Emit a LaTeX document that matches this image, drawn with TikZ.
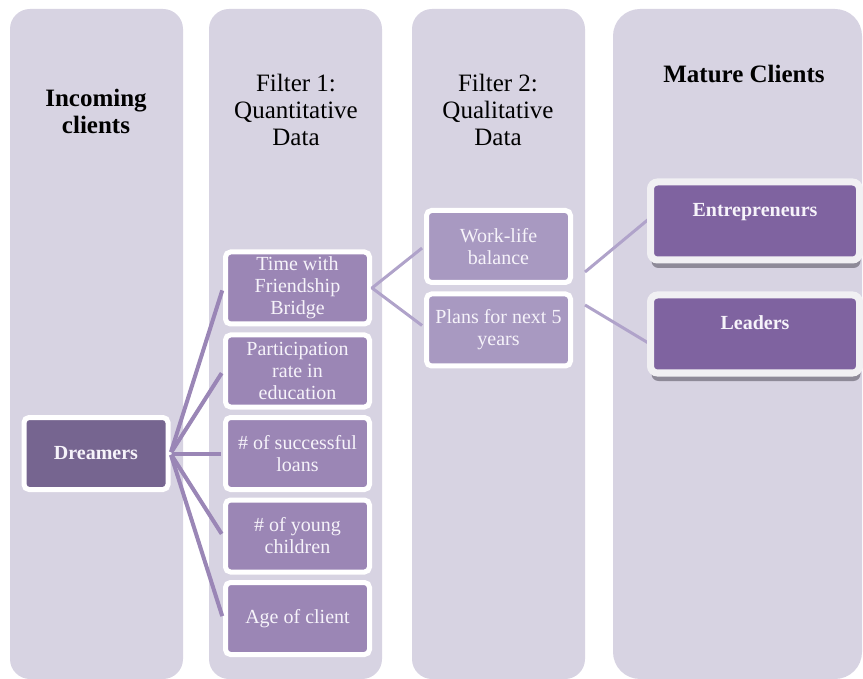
\documentclass[tikz,border=0pt]{standalone}
\usepackage{fontspec}
\setmainfont{Liberation Serif}
\usetikzlibrary{shadows,calc}
\definecolor{colbg}{HTML}{D7D3E2}
\definecolor{dreamc}{HTML}{766590}
\definecolor{fonec}{HTML}{9B86B5}
\definecolor{ftwoc}{HTML}{A899C1}
\definecolor{maturec}{HTML}{7F63A0}
\definecolor{linkone}{HTML}{9A86B6}
\definecolor{linktwo}{HTML}{B0A3CA}
\definecolor{matborder}{HTML}{F1F0F3}
\definecolor{shadowc}{HTML}{8E8A98}
\definecolor{boxtext}{HTML}{F6F3FA}
\tikzset{
  column/.style={fill=colbg, draw=none, rounded corners=20pt},
  hdr/.style={align=center, text=black, font=\fontsize{25}{27}\selectfont, inner sep=0pt},
  fbox/.style={draw=white, line width=5pt, rounded corners=5pt, minimum width=144pt,
    minimum height=72pt, align=center, text=boxtext, inner sep=0pt,
    font=\fontsize{20}{22}\selectfont},
  fone/.style={fbox, fill=fonec},
  ftwo/.style={fbox, fill=ftwoc},
  dream/.style={fbox, fill=dreamc, font=\fontsize{20}{22}\selectfont\bfseries},
  mature/.style={fbox, fill=maturec, draw=matborder, line width=7pt, rounded corners=7pt,
    minimum width=209pt, minimum height=78pt, font=\fontsize{20}{22}\selectfont\bfseries,
    drop shadow={shadow xshift=1pt, shadow yshift=-8pt, fill=shadowc, opacity=1}},
  linkA/.style={draw=linkone, line width=4pt},
  linkB/.style={draw=linktwo, line width=3pt}
}
\begin{document}
\begin{tikzpicture}[x=1pt,y=-1pt]
\useasboundingbox (0,0) rectangle (863,679);
% columns
\fill[column] (10,9) rectangle (183,679);
\fill[column] (209,9) rectangle (382,679);
\fill[column] (412,9) rectangle (585,679);
\fill[column, rounded corners=27pt] (613,9) rectangle (862,679);
% headers
\node[hdr] (h1) at (96,111) {\bfseries Incoming\\\bfseries clients};
\node[hdr] (h2) at (296,109.5) {Filter 1:\\Quantitative\\Data};
\node[hdr] (h3) at (498,109.5) {Filter 2:\\Qualitative\\Data};
\node[hdr] (h4) at (744,74) {\bfseries Mature Clients};
% connector end points in the mature column
\coordinate (wlout) at (585,272);
\coordinate (plout) at (585,305);
\coordinate (entin) at (650,218);
\coordinate (leain) at (650,344);
\draw[linkB] (wlout) -- (entin);
\draw[linkB] (plout) -- (leain);
% filter 1 boxes
\node[fone] (q1) at (297.5,288) {Time with\\Friendship\\Bridge};
\node[fone] (q2) at (297.5,371) {Participation\\rate in\\education};
\node[fone] (q3) at (297.5,453.5) {\# of successful\\loans};
\node[fone] (q4) at (297.5,536) {\# of young\\children};
\node[fone] (q5) at (297.5,618.5) {Age of client};
% filter 2 boxes
\node[ftwo] (w1) at (498.5,246.5) {Work-life\\balance};
\node[ftwo] (w2) at (498.5,330) {Plans for next 5\\years};
% dreamers
\node[dream] (dr) at (96,453.5) {Dreamers};
% mature
\node[mature] (ent) at (755,221) {Entrepreneurs\\\mbox{}};
\node[mature] (lea) at (755,334) {Leaders\\\mbox{}};
% connectors
\foreach \t in {q1,q2,q3,q4,q5}
  \draw[linkA, shorten <=1.5pt, shorten >=2.5pt] (dr.east) -- (\t.west);
\draw[linkB, shorten <=-0.5pt, shorten >=2.5pt] (q1.east) -- (w1.west);
\draw[linkB, shorten <=-0.5pt, shorten >=2.5pt] (q1.east) -- ($(w2.west)+(0,-3)$);
\end{tikzpicture}
\end{document}
